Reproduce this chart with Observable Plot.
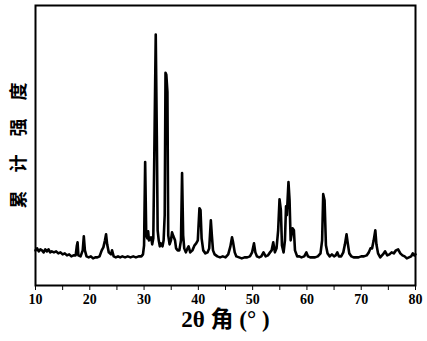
<!DOCTYPE html>
<html>
<head>
<meta charset="utf-8">
<script src="https://cdn.jsdelivr.net/npm/d3@7"></script>
<script src="https://cdn.jsdelivr.net/npm/@observablehq/plot@0.6"></script>
<style>
  html, body { margin: 0; padding: 0; background: #fff; }
  #chart svg { display: block; }
</style>
</head>
<body>
<div id="chart"></div>
<script>
// 2θ (degrees)
const twoTheta = [
  10.0,10.3,10.6,10.9,11.2,11.5,11.8,12.1,12.4,12.7,13.0,13.4,13.8,14.2,14.6,15.0,15.4,15.8,16.2,16.6,
  17.0,17.4,17.6,17.75,17.9,18.3,18.7,18.9,19.1,19.4,19.8,20.2,20.6,21.0,21.4,21.8,22.2,22.5,22.8,23.0,
  23.2,23.5,23.9,24.1,24.4,24.8,25.2,25.6,26.0,26.5,27.0,27.5,28.0,28.5,29.0,29.5,29.8,30.0,30.2,30.4,
  30.6,30.75,30.9,31.1,31.3,31.5,31.7,31.95,32.15,32.35,32.5,32.7,32.9,33.1,33.4,33.6,33.8,33.95,34.1,34.3,
  34.45,34.7,34.95,35.15,35.4,35.7,35.9,36.2,36.5,36.8,37.0,37.2,37.4,37.7,38.0,38.2,38.5,38.9,39.3,39.6,
  39.9,40.2,40.4,40.6,40.9,41.3,41.7,42.0,42.3,42.5,42.7,43.0,43.5,44.0,44.5,45.0,45.5,45.9,46.2,46.4,
  46.7,47.0,47.5,48.0,48.5,49.0,49.5,49.9,50.25,50.5,50.8,51.2,51.6,52.0,52.4,52.8,53.2,53.5,53.8,54.1,
  54.4,54.7,54.95,55.2,55.4,55.7,55.95,56.15,56.3,56.6,56.8,57.0,57.35,57.6,57.8,58.2,58.6,59.0,59.5,59.9,
  60.2,60.6,61.0,61.5,62.0,62.5,62.8,63.0,63.25,63.5,63.8,64.2,64.6,65.0,65.3,65.6,65.9,66.3,66.7,67.0,
  67.3,67.5,67.8,68.2,68.6,69.0,69.5,70.0,70.5,71.0,71.4,71.7,72.0,72.3,72.6,72.8,73.1,73.5,74.0,74.4,
  74.8,75.2,75.6,76.0,76.4,76.8,77.2,77.6,78.0,78.4,78.8,79.2,79.5,79.8,80.0
];
// cumulative intensity (a.u.)
const intensity = [
  35,37,34,36,35,33,36,34,36,33,34,33,34,32,33,31,32,30,31,29,
  30,30,39,43,30,29,35,49,35,29,28,29,27,28,28,29,35,38,45,51,
  41,33,31,35,29,28,29,28,29,28,29,28,29,28,29,29,31,40,123,50,
  47,54,45,47,48,41,47,160,250,149,55,45,39,42,39,45,70,212,210,193,
  50,41,45,53,49,45,37,35,35,45,112,50,37,33,37,39,33,35,40,42,
  45,77,75,47,35,32,33,37,65,49,35,31,29,28,29,28,31,39,48,43,
  33,29,28,27,28,28,29,33,42,33,29,28,29,33,29,30,33,35,43,33,
  37,55,86,75,40,33,45,79,70,103,85,45,57,55,35,29,29,28,29,33,
  29,28,28,28,29,32,45,91,85,40,32,29,31,29,30,33,29,29,33,41,
  51,43,32,29,28,28,28,29,29,30,33,37,37,45,55,41,32,28,31,34,
  30,31,33,32,35,36,32,30,29,27,28,29,32,30,31
];
const xTicks = [10,15,20,25,30,35,40,45,50,55,60,65,70,75,80];
const xTickLabels = ["10","","20","","30","","40","","50","","60","","70","","80"];
const xTitle = "2θ 角 (° )";
const yTitle = "累\u3000计\u3000强\u3000度";

const data = twoTheta.map((x, i) => ({x, y: intensity[i]}));

const chart = Plot.plot({
  width: 427,
  height: 341,
  marginLeft: 35,
  marginRight: 12,
  marginTop: 5,
  marginBottom: 56,
  style: {background: "#fff", color: "#000", fontFamily: "'Liberation Serif', serif"},
  x: {domain: [10, 80], ticks: xTicks, tickFormat: (d) => xTickLabels[xTicks.indexOf(d)], tickSize: 5, tickPadding: 4, label: null},
  y: {domain: [0, 279], axis: null},
  marks: [
    Plot.line(data, {x: "x", y: "y", stroke: "#000", strokeWidth: 2.6, strokeLinejoin: "round"}),
    Plot.frame({stroke: "#000", strokeWidth: 2}),
    Plot.text([xTitle], {frameAnchor: "bottom", dy: 41, fontSize: 23, fontWeight: "bold", fill: "#000",
      textAnchor: "middle", fontFamily: "'Liberation Serif', 'Noto Sans CJK SC', serif"}),
    Plot.text([yTitle], {frameAnchor: "left", dx: -16, rotate: -90, textAnchor: "middle", fontSize: 18, fontWeight: "bold", fill: "#000",
      fontFamily: "'Noto Sans CJK SC', sans-serif"})
  ]
});

const svg = d3.select(chart);
svg.selectAll("g[aria-label='x-axis tick label'] text, g[aria-label='x-axis'] text")
  .style("font-size", "14px").style("font-weight", "bold");
document.getElementById("chart").appendChild(chart);
</script>
</body>
</html>
